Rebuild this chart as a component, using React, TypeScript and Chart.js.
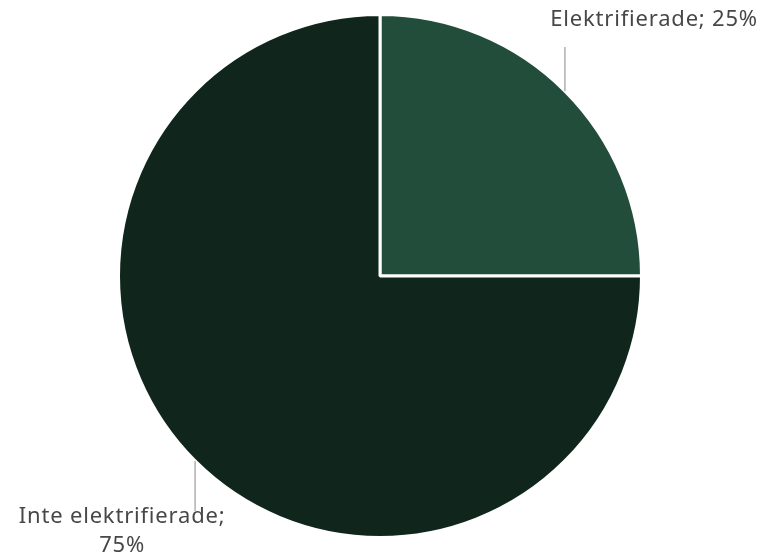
import React, { useEffect, useRef } from "react";
import { Chart, registerables } from "chart.js";

Chart.register(...registerables);

const categories = ["Elektrifierade", "Inte elektrifierade"];
const values = [25, 75];
const labelLines = [["Elektrifierade; 25%"], ["Inte elektrifierade;", "75%"]];
const colors = ["#234d3b", "#10261d"];

const labelPlugin = {
  id: "pieLabels",
  afterDraw(chart: any) {
    const ctx = chart.ctx;
    const meta = chart.getDatasetMeta(0);
    ctx.save();
    meta.data.forEach((arc: any, i: number) => {
      const mid = (arc.startAngle + arc.endAngle) / 2;
      const r = arc.outerRadius;
      const ax = arc.x + Math.cos(mid) * r;
      const ay = arc.y + Math.sin(mid) * r;
      const up = Math.sin(mid) < 0;
      const ey = up ? ay - 44 : ay + 50;
      ctx.strokeStyle = "#b0b0b0";
      ctx.lineWidth = 1.5;
      ctx.beginPath();
      ctx.moveTo(ax, ay);
      ctx.lineTo(ax, ey);
      ctx.stroke();
      ctx.fillStyle = "#474747";
      ctx.font = "22px 'Noto Sans', sans-serif";
      (ctx as any).letterSpacing = "0.8px";
      ctx.textBaseline = "alphabetic";
      const lines = labelLines[i];
      if (up) {
        ctx.textAlign = "right";
        ctx.fillText(lines[0], ax + 193, ey - 21);
      } else {
        ctx.textAlign = "center";
        lines.forEach((t: string, j: number) => {
          ctx.fillText(t, ax - 73, ey + 12 + j * 29);
        });
      }
    });
    ctx.restore();
  },
};

export default function App() {
  const ref = useRef<HTMLCanvasElement>(null);
  useEffect(() => {
    const chart = new Chart(ref.current!, {
      type: "pie",
      data: {
        labels: categories,
        datasets: [
          {
            data: values,
            backgroundColor: colors,
            borderColor: "#ffffff",
            borderWidth: 3,
            hoverOffset: 0,
          },
        ],
      },
      options: {
        animation: false,
        responsive: false,
        layout: { padding: { left: 117, right: 118, top: 13, bottom: 19 } },
        plugins: { legend: { display: false }, tooltip: { enabled: false } },
      },
      plugins: [labelPlugin],
    });
    return () => chart.destroy();
  }, []);
  return (
    <canvas
      ref={ref}
      width={761}
      height={558}
      style={{ position: "absolute", left: 0, top: 0, width: 761, height: 558 }}
    />
  );
}
